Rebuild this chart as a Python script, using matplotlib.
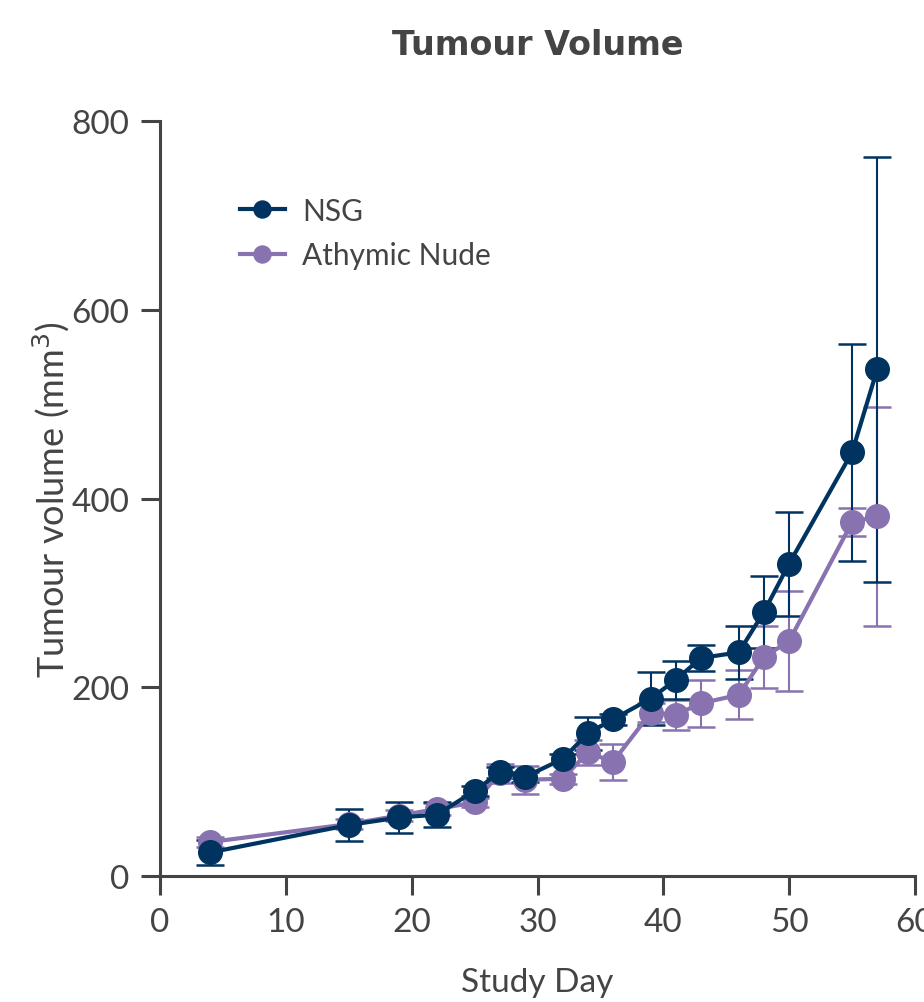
import matplotlib
matplotlib.use("Agg")
import matplotlib.pyplot as plt

# Data
days = [4, 15, 19, 22, 25, 27, 29, 32, 34, 36, 39, 41, 43, 46, 48, 50, 55, 57]
nsg_mean = [25, 54, 62, 65, 90, 110, 105, 124, 151, 166, 188, 208, 231, 237, 280, 331, 449, 537]
nsg_err = [13, 17, 16, 13, 5, 6, 5, 5, 17, 6, 28, 20, 14, 28, 38, 55, 115, 225]
nude_mean = [36, 55, 64, 71, 78, 109, 102, 103, 131, 121, 173, 171, 183, 192, 232, 249, 375, 381]
nude_err = [5, 5, 6, 6, 5, 10, 15, 5, 13, 19, 10, 16, 25, 26, 33, 53, 15, 116]

series_names = ["NSG", "Athymic Nude"]
navy = "#003360"
purple = "#8872B0"
axis_col = "#444444"

plt.rcParams['font.family'] = ['Lato', 'DejaVu Sans']

fig = plt.figure(figsize=(9.24, 10.03), dpi=100)
ax = fig.add_axes([160/924, 1-877/1003, (915-160)/924, (877-122)/1003])

# error bars
ax.errorbar(days, nude_mean, yerr=nude_err, fmt='none', ecolor=purple,
            elinewidth=1.5, capsize=10, capthick=1.8, zorder=2)
ax.errorbar(days, nsg_mean, yerr=nsg_err, fmt='none', ecolor=navy,
            elinewidth=1.5, capsize=10, capthick=1.8, zorder=3)
ax.plot(days, nude_mean, '-o', color=purple, lw=3, ms=17, zorder=4,
        label=series_names[1], clip_on=False)
ax.plot(days, nsg_mean, '-o', color=navy, lw=3, ms=17, zorder=5,
        label=series_names[0], clip_on=False)

ax.set_xlim(0, 60)
ax.set_ylim(0, 800)
ax.set_xticks([0, 10, 20, 30, 40, 50, 60])
ax.set_yticks([0, 200, 400, 600, 800])

for s in ['top', 'right']:
    ax.spines[s].set_visible(False)
for s in ['left', 'bottom']:
    ax.spines[s].set_color(axis_col)
    ax.spines[s].set_linewidth(2.2)
ax.tick_params(axis='both', direction='out', length=14, width=2.2,
               color=axis_col, labelcolor=axis_col, labelsize=24, pad=8)

ax.set_xlabel("Study Day", fontsize=24, color=axis_col, labelpad=22)
ax.set_ylabel("Tumour volume (mm$^3$)", fontsize=26, color=axis_col)
ax.yaxis.set_label_coords(-0.117, 0.5)
ax.set_title("Tumour Volume", fontsize=24, fontweight='bold', color=axis_col,
             pad=48, family=['DejaVu Sans'])

handles, labels = ax.get_legend_handles_labels()
leg = ax.legend(handles[::-1], labels[::-1], loc='upper left',
                bbox_to_anchor=(0.07, 0.935), frameon=False, fontsize=21.5,
                handlelength=1.5, markerscale=0.72, labelspacing=0.55,
                handletextpad=0.6, labelcolor=axis_col)

fig.savefig("out.png", dpi=100)
